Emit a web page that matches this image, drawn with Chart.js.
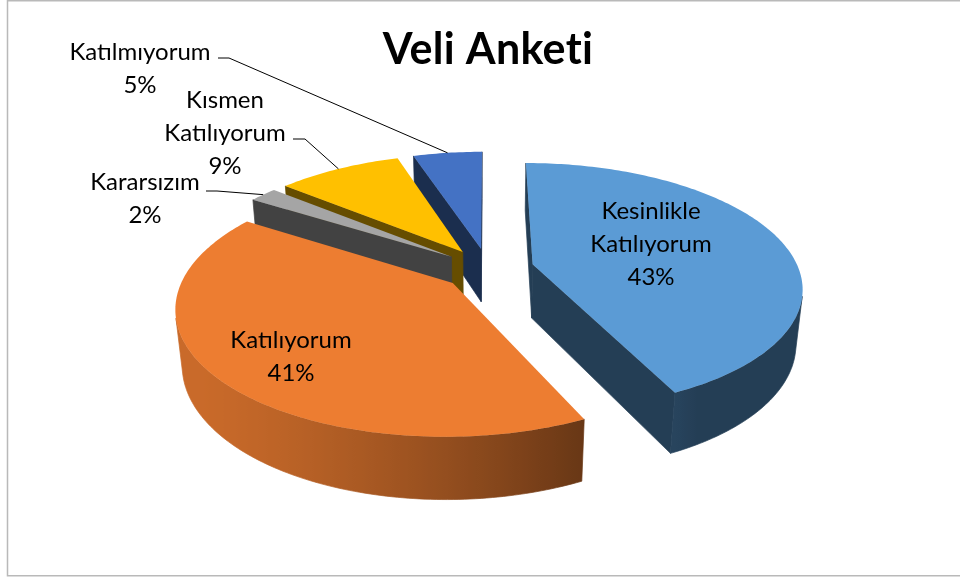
<!DOCTYPE html>
<html>
<head>
<meta charset="utf-8">
<script src="https://cdn.jsdelivr.net/npm/chart.js@4.4.0/dist/chart.umd.min.js"></script>
<style>
  html, body { margin: 0; padding: 0; background: #fff; }
  #wrap { width: 960px; height: 577px; }
</style>
</head>
<body>
<div id="wrap"><canvas id="veliChart" width="960" height="577"></canvas></div>
<script>
// Survey data
const kategoriler = ['Kesinlikle Katılıyorum', 'Katılıyorum', 'Kararsızım', 'Kısmen Katılıyorum', 'Katılmıyorum'];
const yuzdeler = [43, 41, 2, 9, 5];
const renkler = ['#5B9BD5', '#ED7D31', '#A5A5A5', '#FFC000', '#4472C4'];

// 3D look
const EGIM = 27 * Math.PI / 180;  // camera tilt
const UZAKLIK = 5;                // camera distance, in radii
const DERINLIK = 62;              // slice thickness
const PATLAMA = 46;               // explosion distance

// label placement: centre x, first baseline, optional leader start + elbow
const etiketYer = [
    { x: 651, y: 219 },
    { x: 291, y: 348 },
    { x: 145, y: 190, cizgi: [[206, 191], [217, 191]] },
    { x: 225, y: 108, cizgi: [[293, 139], [305, 139]] },
    { x: 140, y: 60, cizgi: [[218, 58], [229, 58]] }
];
const SATIR = 33;

function shade(hex, f) {
    const n = parseInt(hex.slice(1), 16);
    const r = Math.round(((n >> 16) & 255) * f);
    const g = Math.round(((n >> 8) & 255) * f);
    const b = Math.round((n & 255) * f);
    return 'rgb(' + r + ',' + g + ',' + b + ')';
}

// light comes from the front-left
function wallLight(theta) {
    return 0.4 + 0.45 * Math.max(0, Math.cos(theta - 150 * Math.PI / 180));
}

// builds the projected geometry of every slice from the arc elements
function geometry(chart) {
    const arcs = chart.getDatasetMeta(0).data;
    const cx = arcs[0].x, cy = arcs[0].y, R = arcs[0].outerRadius;
    const D = R * UZAKLIK;
    const ct = Math.cos(EGIM), st = Math.sin(EGIM);
    const proj = (u, v, w) => {
        const z = D - v * ct - w * st;
        return [cx + D * u / z, cy + D * (v * st - w * ct) / z];
    };
    const camV = D * ct;
    const faces = (nu, nv, pu, pv) => nu * (0 - pu) + nv * (camV - pv) > 0;

    return arcs.map((arc, i) => {
        const s = arc.startAngle, e = arc.endAngle, mid = (s + e) / 2;
        const ex = arc.options.offset || 0;
        const u0 = ex * Math.cos(mid), v0 = ex * Math.sin(mid);
        const n = Math.max(2, Math.ceil((e - s) / (Math.PI / 180)));
        const th = [], top = [], bot = [];
        for (let j = 0; j <= n; j++) {
            const t = s + (e - s) * j / n;
            th.push(t);
            top.push(proj(u0 + R * Math.cos(t), v0 + R * Math.sin(t), 0));
            bot.push(proj(u0 + R * Math.cos(t), v0 + R * Math.sin(t), -DERINLIK));
        }
        return {
            i, s, e, mid, th, top, bot, R, u0, v0,
            apexT: proj(u0, v0, 0),
            apexB: proj(u0, v0, -DERINLIK),
            rimMid: proj(u0 + R * Math.cos(mid), v0 + R * Math.sin(mid), 0),
            depth: D - v0 * ct,
            startVis: faces(Math.sin(s), -Math.cos(s), u0 + R / 2 * Math.cos(s), v0 + R / 2 * Math.sin(s)),
            endVis: faces(-Math.sin(e), Math.cos(e), u0 + R / 2 * Math.cos(e), v0 + R / 2 * Math.sin(e)),
            segVis: th.slice(0, -1).map((t, j) => {
                const m = (t + th[j + 1]) / 2;
                return faces(Math.cos(m), Math.sin(m), u0 + R * Math.cos(m), v0 + R * Math.sin(m));
            })
        };
    });
}

function fillPoly(ctx, pts, style) {
    ctx.beginPath();
    ctx.moveTo(pts[0][0], pts[0][1]);
    for (let k = 1; k < pts.length; k++) ctx.lineTo(pts[k][0], pts[k][1]);
    ctx.closePath();
    ctx.fillStyle = style;
    ctx.strokeStyle = style;
    ctx.fill();
    ctx.stroke();
}

const pie3d = {
    id: 'pie3d',
    beforeDraw(chart) {
        const ctx = chart.ctx;
        // a little spacing keeps Lato from joining "ti"
        ctx.letterSpacing = '0.3px';
        // chart area frame
        ctx.save();
        ctx.strokeStyle = '#b9b9b9';
        ctx.lineWidth = 1.5;
        ctx.strokeRect(7.5, 0.75, 1000, 575);
        ctx.restore();
    },
    beforeDatasetsDraw(chart) {
        const ctx = chart.ctx;
        const dilimler = geometry(chart).sort((a, b) => b.depth - a.depth);
        ctx.save();
        ctx.lineJoin = 'round';
        ctx.lineWidth = 0.7;
        dilimler.forEach(d => {
            const renk = renkler[d.i];
            const yan = shade(renk, 0.4);
            const n = d.top.length - 1;
            if (d.startVis) fillPoly(ctx, [d.apexT, d.top[0], d.bot[0], d.apexB], yan);
            if (d.endVis) fillPoly(ctx, [d.apexT, d.top[n], d.bot[n], d.apexB], yan);
            // outer wall, one polygon per visible run
            let j = 0;
            while (j < n) {
                if (!d.segVis[j]) { j++; continue; }
                let k = j;
                while (k < n && d.segVis[k]) k++;
                const pts = [];
                for (let q = j; q <= k; q++) pts.push(d.top[q]);
                for (let q = k; q >= j; q--) pts.push(d.bot[q]);
                const xs = d.top.slice(j, k + 1).map(p => p[0]);
                const x0 = Math.min(...xs), x1 = Math.max(...xs);
                const grad = ctx.createLinearGradient(x0, 0, x1 + 0.01, 0);
                for (let q = j; q <= k; q++) {
                    grad.addColorStop((d.top[q][0] - x0) / (x1 + 0.01 - x0), shade(renk, wallLight(d.th[q])));
                }
                fillPoly(ctx, pts, grad);
                j = k;
            }
            // top face
            ctx.beginPath();
            ctx.moveTo(d.apexT[0], d.apexT[1]);
            d.top.forEach(p => ctx.lineTo(p[0], p[1]));
            ctx.closePath();
            ctx.fillStyle = renk;
            ctx.fill();
        });
        ctx.restore();
        return false;
    },
    afterDraw(chart) {
        const ctx = chart.ctx;
        const geo = geometry(chart);
        const toplam = yuzdeler.reduce((a, b) => a + b, 0);
        ctx.save();
        ctx.letterSpacing = '0px';
        ctx.fillStyle = '#000';
        ctx.font = '24px Lato';
        ctx.textAlign = 'center';
        ctx.textBaseline = 'alphabetic';
        etiketYer.forEach((yer, i) => {
            const satirlar = kategoriler[i].split(' ');
            satirlar.push(Math.round(yuzdeler[i] / toplam * 100) + '%');
            satirlar.forEach((t, k) => ctx.fillText(t, yer.x, yer.y + k * SATIR));
            if (yer.cizgi) {
                const uc = geo[i].rimMid;
                ctx.beginPath();
                ctx.moveTo(yer.cizgi[0][0], yer.cizgi[0][1]);
                ctx.lineTo(yer.cizgi[1][0], yer.cizgi[1][1]);
                ctx.lineTo(uc[0], uc[1]);
                ctx.strokeStyle = '#000';
                ctx.lineWidth = 1;
                ctx.stroke();
            }
        });
        ctx.restore();
    }
};

new Chart(document.getElementById('veliChart'), {
    type: 'pie',
    data: {
        labels: kategoriler,
        datasets: [{
            data: yuzdeler,
            backgroundColor: renkler,
            borderWidth: 0,
            offset: PATLAMA,
            radius: 266
        }]
    },
    options: {
        responsive: false,
        animation: false,
        layout: { padding: { left: 16, right: 0, top: 0, bottom: 115 } },
        plugins: {
            legend: { display: false },
            tooltip: { enabled: false },
            title: {
                display: true,
                text: 'Veli Anketi',
                color: '#000',
                font: { family: 'Lato', size: 43, weight: 'bold' },
                padding: { top: 24, bottom: 0 }
            }
        }
    },
    plugins: [pie3d]
});
</script>
</body>
</html>
